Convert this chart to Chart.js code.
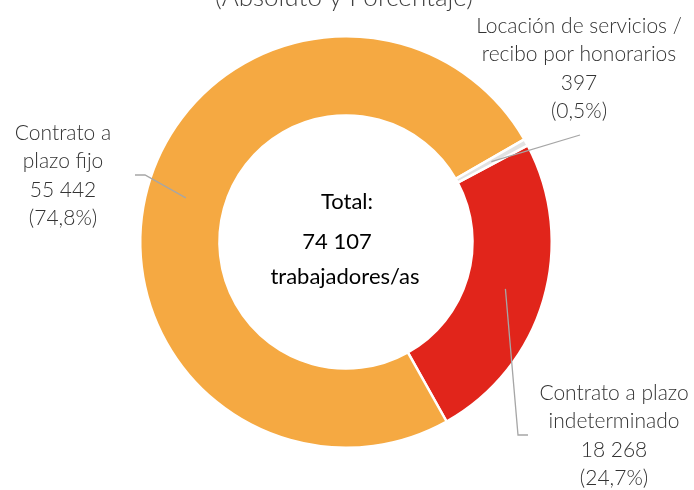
<!DOCTYPE html>
<html>
<head>
<meta charset="utf-8">
<script src="https://cdn.jsdelivr.net/npm/chart.js@4.4.1/dist/chart.umd.min.js"></script>
<style>
  html, body { margin: 0; padding: 0; background: #fff; }
  #wrap { width: 694px; height: 490px; }
</style>
</head>
<body>
<div id="wrap"><canvas id="chart"></canvas></div>
<script>
// data
const categories = [
    ['Contrato a plazo', 'indeterminado'],
    ['Contrato a', 'plazo fijo'],
    ['Locación de servicios /', 'recibo por honorarios']
];
const values = [18268, 55442, 397];
const colors = ['#E1251B', '#F5A942', '#E2E2E2'];
const subtitle = '(Absoluto y Porcentaje)';

const total = values.reduce((a, b) => a + b, 0);

function fmtNum(n) {
    return String(n).replace(/\B(?=(\d{3})+(?!\d))/g, ' ');
}
function fmtPct(n) {
    return '(' + (n / total * 100).toFixed(1).replace('.', ',') + '%)';
}

// where each outside label sits and how its leader line bends
const labelLayout = [
    { x: 614, y: 393, path: [[518, 435], [528, 435]] },
    { x: 63, y: 133, path: [[145, 175], [135, 175]] },
    { x: 579, y: 26, path: [[580, 135]] }
];

const FONT = 'Lato, "Open Sans", sans-serif';

const labelsPlugin = {
    id: 'outLabels',
    afterDatasetsDraw(chart) {
        const ctx = chart.ctx;
        const meta = chart.getDatasetMeta(0);
        ctx.save();

        // leader lines
        ctx.strokeStyle = '#A6A6A6';
        ctx.lineWidth = 1.3;
        meta.data.forEach((arc, i) => {
            const p = arc.getCenterPoint();
            ctx.beginPath();
            ctx.moveTo(p.x, p.y);
            labelLayout[i].path.forEach(pt => ctx.lineTo(pt[0], pt[1]));
            ctx.stroke();
        });

        // label text
        ctx.fillStyle = '#333';
        ctx.font = '300 21px ' + FONT;
        ctx.textAlign = 'center';
        ctx.textBaseline = 'middle';
        meta.data.forEach((arc, i) => {
            const lines = categories[i].concat([fmtNum(values[i]), fmtPct(values[i])]);
            const L = labelLayout[i];
            lines.forEach((t, k) => ctx.fillText(t, L.x, L.y + k * 28.5));
        });

        // centre text
        const c = meta.data[0];
        ctx.fillStyle = '#000';
        ctx.font = '400 22px ' + FONT;
        ctx.fillText('Total:', c.x + 1, c.y - 40);
        ctx.fillText(fmtNum(total), c.x - 9, c.y);
        ctx.fillText('trabajadores/as', c.x - 1, c.y + 35);

        // subtitle, clipped by the top edge
        ctx.fillStyle = '#404040';
        ctx.font = '300 26px ' + FONT;
        ctx.textBaseline = 'alphabetic';
        ctx.fillText(subtitle, 344, 6);
        ctx.restore();
    }
};

new Chart(document.getElementById('chart'), {
    type: 'doughnut',
    data: {
        labels: categories.map(c => c.join(' ')),
        datasets: [{
            data: values,
            backgroundColor: colors,
            borderColor: '#fff',
            borderWidth: 2.5
        }]
    },
    options: {
        responsive: true,
        maintainAspectRatio: false,
        animation: false,
        rotation: 62,
        cutout: '61.5%',
        layout: { padding: { top: 35, bottom: 41, left: 100, right: 102 } },
        plugins: {
            legend: { display: false },
            tooltip: { enabled: false }
        },
        events: []
    },
    plugins: [labelsPlugin]
});
</script>
</body>
</html>
